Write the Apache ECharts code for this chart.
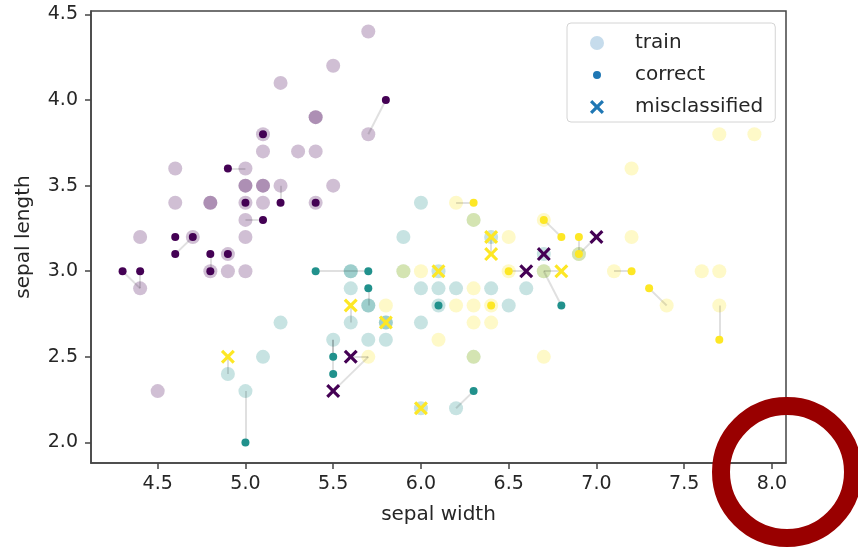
<!DOCTYPE html>
<html>
<head>
<meta charset="utf-8">
<title>iris knn</title>
<script src="https://cdn.jsdelivr.net/npm/echarts@6/dist/echarts.min.js"></script>
<style>
  html, body { margin: 0; padding: 0; background: #fff; }
  #chart { width: 858px; height: 548px; }
</style>
</head>
<body>
<div id="chart"></div>
<script>
const xTicks = [4.5, 5.0, 5.5, 6.0, 6.5, 7.0, 7.5, 8.0];
const yTicks = [2.0, 2.5, 3.0, 3.5, 4.0, 4.5];

// training points (class 0 / 1 / 2)
const trainX = [
  5.7, 5.5, 5.2, 5.4, 5.4, 5.7, 5.1, 5.1, 5.3, 5.4, 4.6, 5.0, 5.0, 5.0, 5.1, 5.1, 5.2,
  5.5, 4.6, 4.8, 4.8, 5.0, 5.1, 5.4, 5.0, 4.4, 4.7, 5.0, 4.9, 4.8, 4.9, 5.0, 4.4, 4.5,
  6.0, 5.9, 6.4, 6.3, 6.7, 6.9, 5.6, 5.6, 5.9, 6.1, 6.7, 5.6, 6.0, 6.1, 6.2, 6.4, 6.6,
  5.7, 5.7, 6.1, 6.5, 5.2, 5.6, 5.8, 5.8, 6.0, 5.5, 5.7, 5.8, 5.1, 6.3, 4.9, 5.0, 6.2, 6.0,
  7.7, 7.9, 7.2, 6.2, 6.3, 6.7, 6.5, 7.2, 6.9, 5.9, 6.0, 6.5, 6.7, 7.1, 7.6, 7.7, 6.3,
  5.8, 6.2, 6.3, 6.4, 7.4, 7.7, 6.3, 6.4, 6.1, 5.7, 6.3, 6.7
];
const trainY = [
  4.4, 4.2, 4.1, 3.9, 3.9, 3.8, 3.8, 3.7, 3.7, 3.7, 3.6, 3.6, 3.5, 3.5, 3.5, 3.5, 3.5,
  3.5, 3.4, 3.4, 3.4, 3.4, 3.4, 3.4, 3.3, 3.2, 3.2, 3.2, 3.1, 3.0, 3.0, 3.0, 2.9, 2.3,
  3.4, 3.2, 3.2, 3.3, 3.1, 3.1, 3.0, 3.0, 3.0, 3.0, 3.0, 2.9, 2.9, 2.9, 2.9, 2.9, 2.9,
  2.8, 2.8, 2.8, 2.8, 2.7, 2.7, 2.7, 2.7, 2.7, 2.6, 2.6, 2.6, 2.5, 2.5, 2.4, 2.3, 2.2, 2.2,
  3.8, 3.8, 3.6, 3.4, 3.3, 3.3, 3.2, 3.2, 3.1, 3.0, 3.0, 3.0, 3.0, 3.0, 3.0, 3.0, 2.9,
  2.8, 2.8, 2.8, 2.8, 2.8, 2.8, 2.7, 2.7, 2.6, 2.5, 2.5, 2.5
];
const trainClass = [
  0, 0, 0, 0, 0, 0, 0, 0, 0, 0, 0, 0, 0, 0, 0, 0, 0,
  0, 0, 0, 0, 0, 0, 0, 0, 0, 0, 0, 0, 0, 0, 0, 0, 0,
  1, 1, 1, 1, 1, 1, 1, 1, 1, 1, 1, 1, 1, 1, 1, 1, 1,
  1, 1, 1, 1, 1, 1, 1, 1, 1, 1, 1, 1, 1, 1, 1, 1, 1, 1,
  2, 2, 2, 2, 2, 2, 2, 2, 2, 2, 2, 2, 2, 2, 2, 2, 2,
  2, 2, 2, 2, 2, 2, 2, 2, 2, 2, 2, 2
];

// correctly classified test points and their nearest training point
const correctX = [5.8, 5.1, 4.9, 5.0, 5.2, 5.4, 5.1, 4.6, 4.7, 4.6, 4.8, 4.9, 4.3, 4.4, 4.8,
  5.4, 5.7, 5.7, 6.1, 6.8, 5.5, 5.5, 6.3, 5.0,
  6.3, 6.7, 6.8, 6.9, 6.9, 6.5, 7.2, 7.3, 6.4, 7.7];
const correctY = [4.0, 3.8, 3.6, 3.4, 3.4, 3.4, 3.3, 3.2, 3.2, 3.1, 3.1, 3.1, 3.0, 3.0, 3.0,
  3.0, 3.0, 2.9, 2.8, 2.8, 2.5, 2.4, 2.3, 2.0,
  3.4, 3.3, 3.2, 3.2, 3.1, 3.0, 3.0, 2.9, 2.8, 2.6];
const correctClass = [0, 0, 0, 0, 0, 0, 0, 0, 0, 0, 0, 0, 0, 0, 0,
  1, 1, 1, 1, 1, 1, 1, 1, 1,
  2, 2, 2, 2, 2, 2, 2, 2, 2, 2];
const correctNbX = [5.7, 5.1, 5.0, 5.0, 5.2, 5.4, 5.0, 4.6, 4.7, 4.7, 4.8, 4.9, 4.4, 4.4, 4.8,
  5.6, 5.6, 5.7, 6.1, 6.7, 5.5, 5.5, 6.2, 5.0,
  6.2, 6.7, 6.7, 6.9, 6.9, 6.5, 7.1, 7.4, 6.4, 7.7];
const correctNbY = [3.8, 3.8, 3.6, 3.4, 3.5, 3.4, 3.3, 3.2, 3.2, 3.2, 3.0, 3.1, 2.9, 2.9, 3.0,
  3.0, 3.0, 2.8, 2.8, 3.0, 2.6, 2.6, 2.2, 2.3,
  3.4, 3.3, 3.3, 3.1, 3.1, 3.0, 3.0, 2.8, 2.8, 2.8];

// misclassified test points and their nearest training point
const missX = [4.9, 5.6, 5.8, 6.0, 6.1, 6.4, 6.4, 6.8, 5.5, 5.6, 6.6, 6.7, 7.0];
const missY = [2.5, 2.8, 2.7, 2.2, 3.0, 3.2, 3.1, 3.0, 2.3, 2.5, 3.0, 3.1, 3.2];
const missClass = [2, 2, 2, 2, 2, 2, 2, 2, 0, 0, 0, 0, 0];
const missNbX = [4.9, 5.6, 5.8, 6.0, 6.1, 6.4, 6.4, 6.7, 5.7, 5.7, 6.5, 6.7, 6.9];
const missNbY = [2.4, 2.7, 2.7, 2.2, 3.0, 3.2, 3.2, 3.0, 2.5, 2.5, 3.0, 3.1, 3.1];

const classColors = ['#440154', '#21918c', '#fde725'];
const trainColors = ['rgba(68,1,84,0.25)', 'rgba(33,145,140,0.25)', 'rgba(253,231,37,0.25)'];
const font = 'DejaVu Sans, sans-serif';
const textColor = '#262626';
const axisColor = '#444';
const xMark = 'path://M1.6,0 L5,3.4 L8.4,0 L10,1.6 L6.6,5 L10,8.4 L8.4,10 L5,6.6 L1.6,10 L0,8.4 L3.4,5 L0,1.6 Z';

const links = [];
correctX.forEach((x, i) => {
  links.push({ coords: [[x, correctY[i]], [correctNbX[i], correctNbY[i]]] });
});
missX.forEach((x, i) => {
  links.push({ coords: [[x, missY[i]], [missNbX[i], missNbY[i]]] });
});

const chart = echarts.init(document.getElementById('chart'));

const option = {
  animation: false,
  backgroundColor: '#fff',
  textStyle: { fontFamily: font },
  grid: {
    left: 91,
    right: 72,
    top: 11,
    bottom: 85,
    show: true,
    borderColor: axisColor,
    borderWidth: 1.5
  },
  legend: {
    orient: 'vertical',
    left: 567,
    top: 23,
    padding: [9, 12, 4, 20],
    itemWidth: 40,
    itemHeight: 14,
    itemGap: 10,
    selectedMode: false,
    backgroundColor: '#fff',
    borderColor: '#d4d4d4',
    borderWidth: 1,
    borderRadius: 4,
    textStyle: {
      fontFamily: font,
      fontSize: 20,
      lineHeight: 22,
      color: textColor,
      padding: [0, 0, 0, 13]
    },
    data: [
      { name: 'train', icon: 'circle', itemStyle: { color: '#c6dcec', opacity: 1 } },
      { name: 'correct', icon: 'circle', itemStyle: { color: '#1f77b4', borderColor: '#fff', borderWidth: 6, opacity: 1 } },
      { name: 'misclassified', icon: xMark, itemStyle: { color: '#1f77b4', opacity: 1 } }
    ]
  },
  xAxis: {
    type: 'value',
    min: 4.12,
    max: 8.08,
    name: 'sepal width',
    nameLocation: 'middle',
    nameGap: 42,
    nameTextStyle: { fontFamily: font, fontSize: 20, color: textColor },
    axisLine: { show: true, onZero: false, lineStyle: { color: axisColor, width: 1.5 } },
    axisTick: { show: true, customValues: xTicks, length: 6, lineStyle: { color: axisColor, width: 1.5 } },
    axisLabel: {
      customValues: xTicks,
      formatter: (v) => v.toFixed(1),
      fontFamily: font,
      fontSize: 19,
      color: textColor,
      margin: 12
    },
    splitLine: { show: false }
  },
  yAxis: {
    type: 'value',
    min: 1.88,
    max: 4.52,
    name: 'sepal length',
    nameLocation: 'middle',
    nameGap: 57,
    nameTextStyle: { fontFamily: font, fontSize: 20, color: textColor },
    axisLine: { show: true, onZero: false, lineStyle: { color: axisColor, width: 1.5 } },
    axisTick: { show: true, customValues: yTicks, length: 6, lineStyle: { color: axisColor, width: 1.5 } },
    axisLabel: {
      customValues: yTicks,
      formatter: (v) => v.toFixed(1),
      fontFamily: font,
      fontSize: 19,
      color: textColor,
      margin: 13
    },
    splitLine: { show: false }
  },
  series: [
    {
      name: 'train',
      type: 'scatter',
      symbol: 'circle',
      symbolSize: 14,
      z: 2,
      itemStyle: { opacity: 1 },
      data: trainX.map((x, i) => ({
        value: [x, trainY[i]],
        itemStyle: { color: trainColors[trainClass[i]] }
      }))
    },
    {
      name: 'links',
      type: 'lines',
      coordinateSystem: 'cartesian2d',
      silent: true,
      z: 3,
      lineStyle: { color: '#000', opacity: 0.12, width: 2 },
      data: links
    },
    {
      name: 'correct',
      type: 'scatter',
      symbol: 'circle',
      symbolSize: 8,
      z: 4,
      itemStyle: { color: '#1f77b4', opacity: 1 },
      data: correctX.map((x, i) => ({
        value: [x, correctY[i]],
        itemStyle: { color: classColors[correctClass[i]] }
      }))
    },
    {
      name: 'misclassified',
      type: 'scatter',
      symbol: xMark,
      symbolSize: 14,
      z: 5,
      itemStyle: { color: '#1f77b4', opacity: 1 },
      data: missX.map((x, i) => ({
        value: [x, missY[i]],
        itemStyle: { color: classColors[missClass[i]] }
      }))
    }
  ],
  graphic: [
    {
      type: 'circle',
      z: 100,
      shape: { cx: 787, cy: 472, r: 66 },
      style: { fill: 'none', stroke: '#990000', lineWidth: 18 }
    }
  ]
};

chart.setOption(option);
</script>
</body>
</html>
